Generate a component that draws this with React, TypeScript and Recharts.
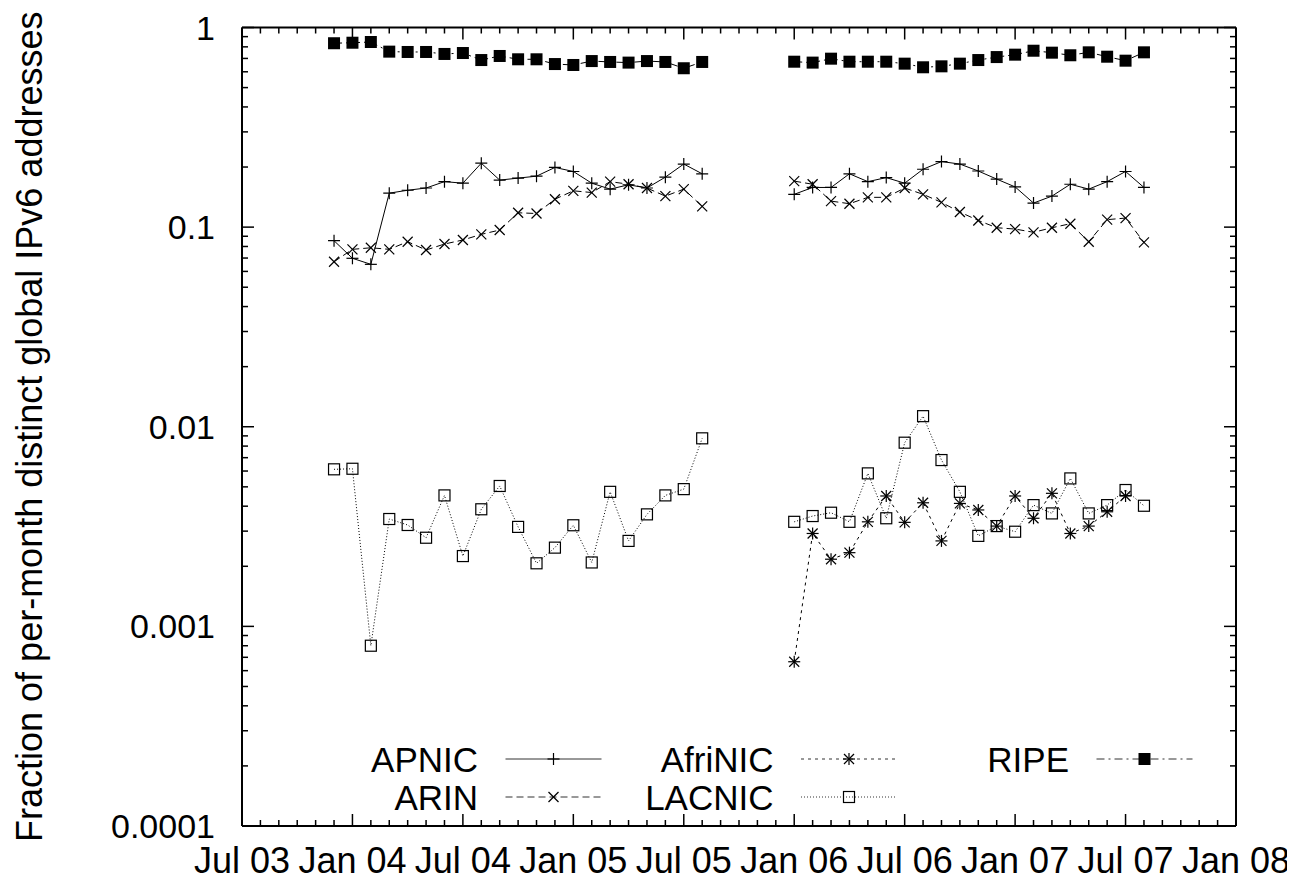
import React from 'react';
import { LineChart, Line, XAxis, YAxis, Legend } from 'recharts';

const FONT = '"Liberation Sans", Arial, Helvetica, sans-serif';

// months covered by the two measurement periods
const months1 = [
  '2003-12', '2004-01', '2004-02', '2004-03', '2004-04', '2004-05', '2004-06',
  '2004-07', '2004-08', '2004-09', '2004-10', '2004-11', '2004-12', '2005-01',
  '2005-02', '2005-03', '2005-04', '2005-05', '2005-06', '2005-07', '2005-08',
];
const months2 = [
  '2006-01', '2006-02', '2006-03', '2006-04', '2006-05', '2006-06', '2006-07',
  '2006-08', '2006-09', '2006-10', '2006-11', '2006-12', '2007-01', '2007-02',
  '2007-03', '2007-04', '2007-05', '2007-06', '2007-07', '2007-08',
];

const apnic1 = [0.0855, 0.0698, 0.0651, 0.148, 0.153, 0.157, 0.169, 0.166, 0.209, 0.172, 0.176, 0.18, 0.199, 0.19, 0.166, 0.155, 0.163, 0.157, 0.178, 0.207, 0.185];
const apnic2 = [0.146, 0.158, 0.158, 0.185, 0.169, 0.177, 0.166, 0.195, 0.213, 0.207, 0.191, 0.174, 0.159, 0.132, 0.143, 0.164, 0.155, 0.169, 0.19, 0.158];

const arin1 = [0.0671, 0.0774, 0.0788, 0.0774, 0.0845, 0.0768, 0.0823, 0.0862, 0.092, 0.0967, 0.118, 0.117, 0.138, 0.152, 0.149, 0.169, 0.164, 0.157, 0.143, 0.155, 0.127];
const arin2 = [0.17, 0.164, 0.135, 0.131, 0.141, 0.141, 0.157, 0.146, 0.133, 0.119, 0.108, 0.0993, 0.0978, 0.0942, 0.0993, 0.104, 0.0845, 0.109, 0.111, 0.0839];

// AfriNIC only reported from Jan 06 to Jul 07
const afrinic2 = [0.000665, 0.00292, 0.00217, 0.00234, 0.00334, 0.0045, 0.00332, 0.00416, 0.00268, 0.00413, 0.00383, 0.00318, 0.0045, 0.00348, 0.00464, 0.00292, 0.00318, 0.00375, 0.0045];

const lacnic1 = [0.00612, 0.00616, 0.0008, 0.00345, 0.00322, 0.00278, 0.00453, 0.00225, 0.00386, 0.00505, 0.00315, 0.00207, 0.00248, 0.00321, 0.00209, 0.00472, 0.00268, 0.00364, 0.00453, 0.00487, 0.00875];
const lacnic2 = [0.00334, 0.00357, 0.00371, 0.00334, 0.00584, 0.00348, 0.00832, 0.0113, 0.00681, 0.00472, 0.00284, 0.00318, 0.00298, 0.00405, 0.00368, 0.00551, 0.00368, 0.00405, 0.00482, 0.00402];

const ripe1 = [0.834, 0.839, 0.846, 0.757, 0.754, 0.754, 0.737, 0.745, 0.687, 0.72, 0.693, 0.693, 0.656, 0.649, 0.679, 0.672, 0.667, 0.679, 0.672, 0.625, 0.672];
const ripe2 = [0.674, 0.667, 0.698, 0.674, 0.674, 0.674, 0.659, 0.632, 0.639, 0.659, 0.687, 0.711, 0.731, 0.765, 0.748, 0.726, 0.751, 0.714, 0.682, 0.751];

const xTickLabels = ['Jul 03', 'Jan 04', 'Jul 04', 'Jan 05', 'Jul 05', 'Jan 06', 'Jul 06', 'Jan 07', 'Jul 07', 'Jan 08'];
const yMajorTicks = [0.0001, 0.001, 0.01, 0.1, 1];
const yTickLabels = ['0.0001', '0.001', '0.01', '0.1', '1'];

const seriesNames = ['APNIC', 'ARIN', 'AfriNIC', 'LACNIC', 'RIPE'];
const seriesDash = [undefined, '7 4', '3 4', '1 2', '8 4 2 4'];
const seriesMarker = ['plus', 'cross', 'star', 'box', 'filledBox'];

// x axis counts months from Jul 2003
const toIndex = (s: string) => {
  const [y, m] = s.split('-').map(Number);
  return (y - 2003) * 12 + (m - 7);
};

const rows = [
  ...months1.map((m, i) => ({
    m: toIndex(m), APNIC: apnic1[i], ARIN: arin1[i], AfriNIC: null, LACNIC: lacnic1[i], RIPE: ripe1[i],
  })),
  // break between the two periods
  { m: 27.5, APNIC: null, ARIN: null, AfriNIC: null, LACNIC: null, RIPE: null },
  ...months2.map((m, i) => ({
    m: toIndex(m), APNIC: apnic2[i], ARIN: arin2[i], AfriNIC: afrinic2[i] ?? null, LACNIC: lacnic2[i], RIPE: ripe2[i],
  })),
];

const xTicks = Array.from({ length: 55 }, (_, i) => i);
const yTicks = yMajorTicks.flatMap((d, k) =>
  k === yMajorTicks.length - 1 ? [d] : [d, 2 * d, 3 * d, 4 * d, 5 * d, 6 * d, 7 * d, 8 * d, 9 * d]
);
const majorIndex = (v: number) => yMajorTicks.findIndex(t => Math.abs(t - v) < t * 1e-6);

function Marker({ kind, cx, cy }: { kind: string; cx: number; cy: number }) {
  if (kind === 'plus') {
    return (
      <g stroke="#000" strokeWidth={1.2}>
        <line x1={cx - 6} x2={cx + 6} y1={cy} y2={cy} />
        <line x1={cx} x2={cx} y1={cy - 6} y2={cy + 6} />
      </g>
    );
  }
  if (kind === 'cross') {
    return (
      <g stroke="#000" strokeWidth={1.2}>
        <line x1={cx - 5} x2={cx + 5} y1={cy - 5} y2={cy + 5} />
        <line x1={cx - 5} x2={cx + 5} y1={cy + 5} y2={cy - 5} />
      </g>
    );
  }
  if (kind === 'star') {
    return (
      <g stroke="#000" strokeWidth={1.2}>
        <line x1={cx - 6} x2={cx + 6} y1={cy} y2={cy} />
        <line x1={cx} x2={cx} y1={cy - 6} y2={cy + 6} />
        <line x1={cx - 5} x2={cx + 5} y1={cy - 5} y2={cy + 5} />
        <line x1={cx - 5} x2={cx + 5} y1={cy + 5} y2={cy - 5} />
      </g>
    );
  }
  if (kind === 'box') {
    return <rect x={cx - 5.5} y={cy - 5.5} width={11} height={11} fill="none" stroke="#000" strokeWidth={1.2} />;
  }
  return <rect x={cx - 6} y={cy - 6} width={12} height={12} fill="#000" />;
}

const makeDot = (kind: string, name: string) => (p: any) => {
  const key = `${name}-${p.index}`;
  if (p.cx == null || p.cy == null || p.value == null || Number.isNaN(p.cy)) return <g key={key} />;
  return <Marker key={key} kind={kind} cx={p.cx} cy={p.cy} />;
};

const bottomTick = (p: any) => {
  const v = p.payload.value;
  const major = v % 6 === 0;
  return (
    <g>
      <line x1={p.x} x2={p.x} y1={p.y} y2={p.y - (major ? 12 : 6)} stroke="#000" strokeWidth={1.5} />
      {major && (
        <text x={p.x} y={p.y + 47} textAnchor="middle" fontSize={36} fontFamily={FONT} fill="#000">
          {xTickLabels[v / 6]}
        </text>
      )}
    </g>
  );
};

const topTick = (p: any) => {
  const major = p.payload.value % 6 === 0;
  return <line x1={p.x} x2={p.x} y1={p.y} y2={p.y + (major ? 12 : 6)} stroke="#000" strokeWidth={1.5} />;
};

const leftTick = (p: any) => {
  const idx = majorIndex(p.payload.value);
  return (
    <g>
      <line x1={p.x} x2={p.x + (idx >= 0 ? 12 : 6)} y1={p.y} y2={p.y} stroke="#000" strokeWidth={1.5} />
      {idx >= 0 && (
        <text x={p.x - 27} y={p.y + 12} textAnchor="end" fontSize={34} fontFamily={FONT} fill="#000">
          {yTickLabels[idx]}
        </text>
      )}
    </g>
  );
};

const rightTick = (p: any) => {
  const major = majorIndex(p.payload.value) >= 0;
  return <line x1={p.x} x2={p.x - (major ? 12 : 6)} y1={p.y} y2={p.y} stroke="#000" strokeWidth={1.5} />;
};

const yTitle = (p: any) => {
  const vb = p.viewBox || { x: 233, y: 19.5, width: 1, height: 798.5 };
  const tx = vb.x + vb.width - 200;
  const ty = vb.y + vb.height / 2;
  return (
    <text x={tx} y={ty} transform={`rotate(-90 ${tx} ${ty})`} textAnchor="middle" fontSize={36} fontFamily={FONT} fill="#000">
      Fraction of per-month distinct global IPv6 addresses
    </text>
  );
};

const renderLegend = () => (
  <svg width={1279} height={874} style={{ position: 'absolute', left: 0, top: 0, overflow: 'visible' }}>
    {seriesNames.map((name, i) => {
      const col = Math.floor(i / 2);
      const row = i % 2;
      const right = 470 + col * 295.5;
      const y = 751 + row * 38;
      const x1 = right + 27.5;
      const x2 = x1 + 96;
      return (
        <g key={name}>
          <text x={right} y={y + 13} textAnchor="end" fontSize={35} fontFamily={FONT} fill="#000">{name}</text>
          <line x1={x1} x2={x2} y1={y} y2={y} stroke="#333" strokeWidth={1} strokeDasharray={seriesDash[i]} />
          <Marker kind={seriesMarker[i]} cx={(x1 + x2) / 2} cy={y} />
        </g>
      );
    })}
  </svg>
);

const axisLine = { stroke: '#000', strokeWidth: 2 };

export default function App() {
  return (
    <div>
      {/* let the last x label run past the chart box, as in the original */}
      <style>{'.recharts-surface { overflow: visible; }'}</style>
      <LineChart
        width={1279}
        height={874}
        data={rows}
        margin={{ top: 18.5, right: 50, bottom: 55, left: 233 }}
        style={{ fontFamily: FONT }}
      >
        <XAxis
          xAxisId="bottom"
          type="number"
          dataKey="m"
          domain={[0, 54]}
          allowDataOverflow
          ticks={xTicks}
          interval={0}
          height={1}
          tickSize={0}
          tickMargin={0}
          tickLine={false}
          axisLine={axisLine}
          tick={bottomTick}
        />
        <XAxis
          xAxisId="top"
          orientation="top"
          type="number"
          dataKey="m"
          domain={[0, 54]}
          allowDataOverflow
          ticks={xTicks}
          interval={0}
          height={1}
          tickSize={0}
          tickMargin={0}
          tickLine={false}
          axisLine={axisLine}
          tick={topTick}
        />
        <YAxis
          yAxisId="left"
          type="number"
          scale="log"
          domain={[0.0001, 1]}
          allowDataOverflow
          ticks={yTicks}
          interval={0}
          width={1}
          tickSize={0}
          tickMargin={0}
          tickLine={false}
          axisLine={axisLine}
          tick={leftTick}
          label={{ content: yTitle }}
        />
        <YAxis
          yAxisId="right"
          orientation="right"
          type="number"
          scale="log"
          domain={[0.0001, 1]}
          allowDataOverflow
          ticks={yTicks}
          interval={0}
          width={1}
          tickSize={0}
          tickMargin={0}
          tickLine={false}
          axisLine={axisLine}
          tick={rightTick}
        />
        {seriesNames.map((name, i) => (
          <Line
            key={name}
            xAxisId="bottom"
            yAxisId="left"
            dataKey={name}
            stroke="#000"
            strokeWidth={1}
            strokeDasharray={seriesDash[i]}
            dot={makeDot(seriesMarker[i], name)}
            activeDot={false}
            connectNulls={false}
            isAnimationActive={false}
          />
        ))}
        <Legend
          layout="horizontal"
          verticalAlign="middle"
          align="center"
          content={renderLegend}
          wrapperStyle={{ left: 0, top: 0, width: 1279, height: 874, pointerEvents: 'none' }}
        />
      </LineChart>
    </div>
  );
}
